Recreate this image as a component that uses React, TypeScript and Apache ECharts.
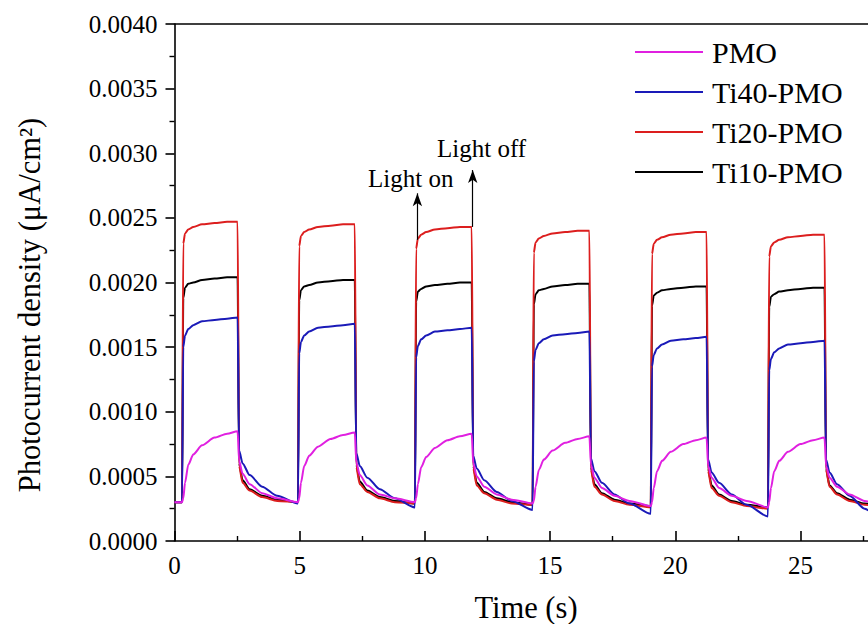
import React, { useEffect, useRef } from "react";
import * as echarts from "echarts";

// ---- data ----
const times = [0, 0.3, 0.35, 0.42, 0.55, 0.75, 1.1, 1.6, 2.1, 2.52, 2.58, 2.72, 3.0, 3.5, 4.1, 4.93, 4.98, 5.05, 5.18, 5.38, 5.73, 6.23, 6.73, 7.2, 7.26, 7.4, 7.7, 8.2, 8.8, 9.6, 9.65, 9.72, 9.85, 10.05, 10.4, 10.9, 11.4, 11.87, 11.93, 12.07, 12.37, 12.87, 13.47, 14.3, 14.35, 14.42, 14.55, 14.75, 15.1, 15.6, 16.1, 16.57, 16.63, 16.77, 17.07, 17.57, 18.17, 19.02, 19.07, 19.14, 19.27, 19.47, 19.82, 20.32, 20.82, 21.25, 21.31, 21.45, 21.75, 22.25, 22.85, 23.7, 23.75, 23.82, 23.95, 24.15, 24.5, 25.0, 25.5, 25.96, 26.02, 26.16, 26.46, 26.96, 27.56, 28.0];

const ti20 = [0.0003, 0.0003,
  0.0023, 0.00238, 0.00241, 0.00243, 0.00245, 0.00246, 0.00247, 0.00247, 0.00058, 0.00045, 0.00039, 0.00034, 0.00031, 0.0003,
  0.00228, 0.00236, 0.00239, 0.00241, 0.00243, 0.00244, 0.00245, 0.00245, 0.00057, 0.00044, 0.00038, 0.00033, 0.0003, 0.00029,
  0.00226, 0.00234, 0.00237, 0.00239, 0.00241, 0.00242, 0.00243, 0.00243, 0.00056, 0.00043, 0.00037, 0.00032, 0.00029, 0.00028,
  0.00223, 0.00231, 0.00234, 0.00236, 0.00238, 0.00239, 0.0024, 0.0024, 0.00055, 0.00042, 0.00036, 0.00031, 0.00028, 0.00026,
  0.00222, 0.0023, 0.00233, 0.00235, 0.00237, 0.00238, 0.00239, 0.00239, 0.00054, 0.00041, 0.00035, 0.0003, 0.00027, 0.00025,
  0.0022, 0.00228, 0.00231, 0.00233, 0.00235, 0.00236, 0.00237, 0.00237, 0.00055, 0.00042, 0.00036, 0.00031, 0.00028, 0.00027];

const ti10 = [0.0003, 0.0003,
  0.00188, 0.00196, 0.00199, 0.002, 0.00202, 0.00203, 0.00204, 0.00204, 0.0006, 0.00047, 0.0004, 0.00035, 0.00032, 0.0003,
  0.00186, 0.00194, 0.00197, 0.00198, 0.002, 0.00201, 0.00202, 0.00202, 0.00059, 0.00046, 0.00039, 0.00034, 0.00031, 0.00029,
  0.00185, 0.00193, 0.00195, 0.00197, 0.00198, 0.00199, 0.002, 0.002, 0.00058, 0.00045, 0.00038, 0.00033, 0.0003, 0.00028,
  0.00183, 0.00191, 0.00194, 0.00195, 0.00197, 0.00198, 0.00199, 0.00199, 0.00057, 0.00044, 0.00037, 0.00032, 0.00029, 0.00027,
  0.00182, 0.0019, 0.00192, 0.00194, 0.00195, 0.00196, 0.00197, 0.00197, 0.00056, 0.00043, 0.00036, 0.00031, 0.00028, 0.00026,
  0.00181, 0.00189, 0.00191, 0.00193, 0.00194, 0.00195, 0.00196, 0.00196, 0.00056, 0.00043, 0.00037, 0.00032, 0.00029, 0.00028];

const ti40 = [0.0003, 0.0003,
  0.0015, 0.00159, 0.00164, 0.00167, 0.0017, 0.00171, 0.00172, 0.00173, 0.0007, 0.0006, 0.00051, 0.00042, 0.00035, 0.00029,
  0.00145, 0.00154, 0.00159, 0.00162, 0.00165, 0.00166, 0.00167, 0.00168, 0.00068, 0.00058, 0.00049, 0.0004, 0.00033, 0.00026,
  0.00142, 0.00151, 0.00156, 0.00159, 0.00162, 0.00163, 0.00164, 0.00165, 0.00066, 0.00056, 0.00047, 0.00038, 0.00031, 0.00024,
  0.00139, 0.00148, 0.00153, 0.00156, 0.00159, 0.0016, 0.00161, 0.00162, 0.00064, 0.00054, 0.00045, 0.00036, 0.00029, 0.00021,
  0.00135, 0.00144, 0.00149, 0.00152, 0.00155, 0.00156, 0.00157, 0.00158, 0.00063, 0.00053, 0.00045, 0.00036, 0.00028, 0.00019,
  0.00132, 0.00141, 0.00146, 0.00149, 0.00152, 0.00153, 0.00154, 0.00155, 0.00063, 0.00053, 0.00044, 0.00035, 0.00025, 0.00019];

const pmo = [0.0003, 0.0003,
  0.00033, 0.00045, 0.00059, 0.00067, 0.00074, 0.0008, 0.00083, 0.00085, 0.00062, 0.00052, 0.00044, 0.00037, 0.00033, 0.0003,
  0.00033, 0.00045, 0.00058, 0.00066, 0.00073, 0.00079, 0.00082, 0.00084, 0.00061, 0.00051, 0.00043, 0.00036, 0.00033, 0.0003,
  0.00033, 0.00044, 0.00057, 0.00065, 0.00072, 0.00078, 0.00081, 0.00083, 0.0006, 0.0005, 0.00042, 0.00036, 0.00032, 0.00029,
  0.00031, 0.00042, 0.00055, 0.00063, 0.0007, 0.00076, 0.00079, 0.00081, 0.00059, 0.00049, 0.00041, 0.00035, 0.00031, 0.00027,
  0.0003, 0.00041, 0.00054, 0.00062, 0.00069, 0.00075, 0.00078, 0.0008, 0.00058, 0.00049, 0.00041, 0.00035, 0.00031, 0.00026,
  0.0003, 0.00041, 0.00054, 0.00062, 0.00069, 0.00075, 0.00078, 0.0008, 0.00058, 0.00049, 0.00042, 0.00036, 0.00031, 0.00029];

const legendNames = ["PMO", "Ti40-PMO", "Ti20-PMO", "Ti10-PMO"];

// annotation arrows (data coordinates)
const lightOnArrow = { t: 9.7, from: 0.00233, to: 0.00269 };
const lightOffArrow = { t: 11.91, from: 0.00243, to: 0.00287 };

const FONT = "'Liberation Serif', 'Times New Roman', serif";

export default function App() {
  const ref = useRef<HTMLDivElement>(null);
  useEffect(() => {
    if (!ref.current) return;
    const chart = echarts.init(ref.current, undefined, { renderer: "svg" });
    const mk = (arr: number[]) => times.map((t, i) => [t, arr[i]]);
    const axisLineStyle = { color: "#000", width: 1.6 };
    const series: any[] = [
      { name: "Ti10-PMO", color: "#000000", data: mk(ti10) },
      {
        name: "Ti20-PMO", color: "#DC1E1E", data: mk(ti20),
        markLine: {
          silent: true,
          symbol: ["none", "arrow"],
          symbolSize: [7, 13],
          label: { show: false },
          lineStyle: { color: "#000", width: 1.2, type: "solid" },
          emphasis: { disabled: true },
          data: [
            [{ coord: [lightOnArrow.t, lightOnArrow.from] }, { coord: [lightOnArrow.t, lightOnArrow.to] }],
            [{ coord: [lightOffArrow.t, lightOffArrow.from] }, { coord: [lightOffArrow.t, lightOffArrow.to] }],
          ],
        },
      },
      { name: "Ti40-PMO", color: "#1A1AB8", data: mk(ti40) },
      { name: "PMO", color: "#E020E0", data: mk(pmo) },
    ].map((s) => ({
      type: "line",
      symbol: "none",
      smooth: 0.25,
      smoothMonotone: "x",
      lineStyle: { width: 2, color: s.color },
      itemStyle: { color: s.color },
      ...s,
    }));

    chart.setOption({
      animation: false,
      textStyle: { fontFamily: FONT },
      grid: { left: 174.5, top: 24, width: 751.2, height: 517 },
      legend: {
        data: legendNames,
        orient: "vertical",
        left: 635,
        top: 37,
        padding: 0,
        icon: "rect",
        itemWidth: 68,
        itemHeight: 2,
        itemGap: 10,
        textStyle: { fontSize: 30, fontFamily: FONT, color: "#000", lineHeight: 28, padding: [0, 0, 0, 4] },
      },
      xAxis: [
        {
          type: "value", min: 0, max: 30, interval: 5, position: "bottom",
          axisLine: { show: true, onZero: false, lineStyle: axisLineStyle },
          axisTick: { show: true, inside: true, length: 10, lineStyle: axisLineStyle },
          minorTick: { show: true, splitNumber: 2, length: 5, lineStyle: { color: "#000", width: 1.4 } },
          axisLabel: {
            margin: 12, fontSize: 25, color: "#000", fontFamily: FONT,
            formatter: (v: number) => (v <= 25 ? String(v) : ""),
          },
          splitLine: { show: false },
          minorSplitLine: { show: false },
        },
        {
          type: "value", min: 0, max: 30, position: "top",
          axisLine: { show: true, onZero: false, lineStyle: axisLineStyle },
          axisTick: { show: false }, axisLabel: { show: false }, splitLine: { show: false },
        },
      ],
      yAxis: [
        {
          type: "value", min: 0, max: 0.004, interval: 0.0005,
          axisLine: { show: true, onZero: false, lineStyle: axisLineStyle },
          axisTick: { show: true, inside: false, length: 9, lineStyle: axisLineStyle },
          minorTick: { show: true, splitNumber: 2, length: 5, lineStyle: { color: "#000", width: 1.4 } },
          axisLabel: { margin: 17, fontSize: 25, color: "#000", fontFamily: FONT, formatter: (v: number) => v.toFixed(4) },
          splitLine: { show: false },
        },
      ],
      graphic: [
        { type: "text", x: 526, y: 608, style: { text: "Time (s)", fontSize: 30.5, fontFamily: FONT, fill: "#000", align: "center", verticalAlign: "middle" } },
        { type: "text", x: 30, y: 305, rotation: Math.PI / 2, style: { text: "Photocurrent density (μA/cm²)", fontSize: 30.5, fontFamily: FONT, fill: "#000", align: "center", verticalAlign: "middle" } },
        { type: "text", x: 368, y: 178, style: { text: "Light on", fontSize: 25, fontFamily: FONT, fill: "#000", align: "left", verticalAlign: "middle" } },
        { type: "text", x: 437, y: 148, style: { text: "Light off", fontSize: 25, fontFamily: FONT, fill: "#000", align: "left", verticalAlign: "middle" } },
      ],
      series,
    });
    return () => chart.dispose();
  }, []);

  return (
    <div style={{ position: "fixed", left: 0, top: 0, width: 868, height: 624, overflow: "hidden", background: "#fff" }}>
      <div ref={ref} style={{ width: 930, height: 624 }} />
    </div>
  );
}
